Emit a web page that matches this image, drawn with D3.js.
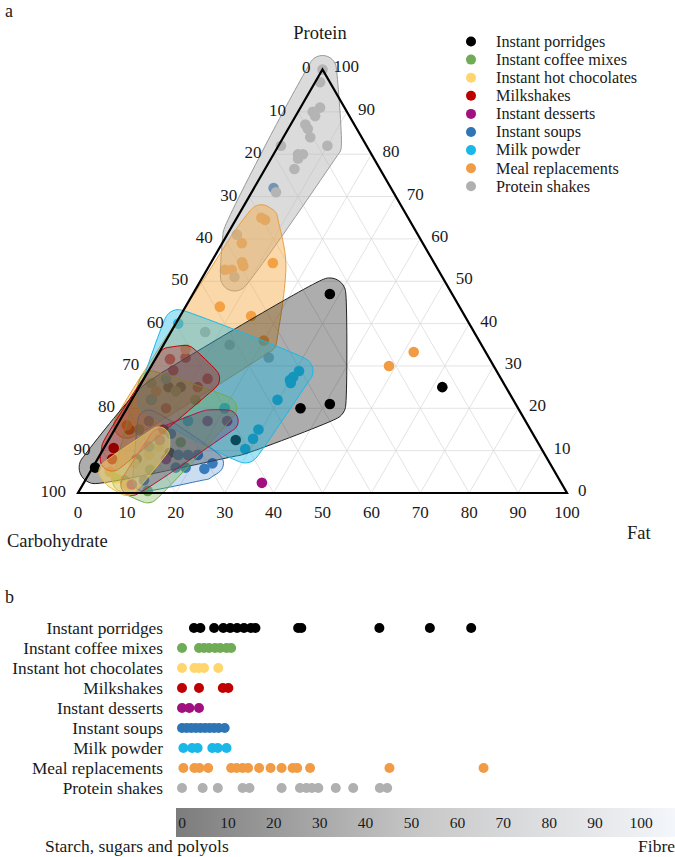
<!DOCTYPE html>
<html><head><meta charset="utf-8">
<script src="https://cdn.jsdelivr.net/npm/d3@7"></script>
<style>
body{margin:0;background:#fff}
svg{display:block}
text{font-family:"Liberation Serif","Times New Roman",serif;fill:#1a1a1a}
</style>
</head><body>
<svg id="c" width="675" height="857"></svg>
<script>
// ---------- DATA ----------
const categories = ["Instant porridges","Instant coffee mixes","Instant hot chocolates","Milkshakes",
  "Instant desserts","Instant soups","Milk powder","Meal replacements","Protein shakes"];
const colors = ["#000000","#6fac55","#ffd56e","#c00000","#a0107f","#2e75b6","#1ab8e8","#f29b45","#b0b0b0"];

// Panel a: composition [protein %, fat %]; carbohydrate = 100 - protein - fat
const porridgesPF = [[6,0.5],[47,28],[20,35.5],[21,41],[25,62],[9.5,14],[25,6],[25,8.5],[22,4],[12.5,26],[15,10],[8,8]];
const coffeePF = [[26,2],[20,20],[22,13],[5.5,12],[0.5,14],[24,8],[12,15],[3,8],[15,5]];
const hotChocPF = [[3.5,6],[7,8],[9,10],[11,11],[2,9],[5,4],[13,10]];
const milkshakesPF = [[31.6,3],[32,6],[29,5],[27,13],[25,12],[15,3],[10.6,2],[8,3],[20,8]];
const dessertsPF = [[17,18],[17,22],[2,10],[12.5,10.5],[2.4,36.4],[8,14]];
const soupsPF = [[72,4],[7,24],[5.7,23],[6,19],[6,17],[9,16],[9,18],[9,20],[17,6],[14,12],[3,12],[11,9]];
const milkPowderPF = [[40,0.5],[26.7,30],[27.4,30.3],[28.8,30.8],[26,30.5],[22,29.8],[15,29.4],[12.8,29.4],[10.4,29],[22,4],[17,14],[27,4.5],[20,20]];
const mealPF = [[65,5],[64.5,6],[59,4],[54.5,6.3],[53.6,7],[52.7,3.7],[52.7,5.1],[54.3,12.7],[41.8,14.5],[30,48.6],[33.3,52],[16,2],[24,4],[34,5],[44,7],[36,20]];
const proteinShakesPF = [[100,0],[97,1],[91,4],[90,3],[89,4],[87,3],[86,4],[84,5.5],[82,0.5],[82,10],[80,6],[80,5],[79,5.5],[76.5,6],[71,5],[61,2],[51,6.5],[38,7],[35,13.5],[32,23]];
const ternaryData = [porridgesPF,coffeePF,hotChocPF,milkshakesPF,dessertsPF,soupsPF,milkPowderPF,mealPF,proteinShakesPF];
// points left outside each group's envelope (indices)
const hullExcluded = [[4],[],[],[],[4],[0],[],[9,10],[17,18,19]];
const ternaryTicks = [0,10,20,30,40,50,60,70,80,90,100];

// Panel b: fibre share of carbohydrate (%)
const porridgesFibre = [2.6,4,7,9,10.5,12,13.5,15,16,25.3,26,43,54,63];
const coffeeFibre = [0,3.7,4.8,5.9,7.2,8.3,9.7,10.7];
const hotChocFibre = [0,2.7,3.7,4.8,7.9];
const milkshakesFibre = [0,3.7,8.9,10.1];
const dessertsFibre = [0,1.6,3.7];
const soupsFibre = [0,1,2,3,4,5,6,7,8,9.3];
const milkPowderFibre = [0.3,2.2,3.4,6.6,7.8,9.7];
const mealFibre = [0.3,2.7,3.8,5.7,10.7,11.9,13.2,14.4,16.8,19.3,21.7,24.1,25.1,27.9,45.2,65.7];
const proteinShakesFibre = [0,4.5,7.8,13.2,14.7,21.7,25.7,27.1,28.3,29.7,33.5,37.3,43.1,44.7];
const fibreData = [porridgesFibre,coffeeFibre,hotChocFibre,milkshakesFibre,dessertsFibre,soupsFibre,milkPowderFibre,mealFibre,proteinShakesFibre];
const fibreTicks = [0,10,20,30,40,50,60,70,80,90,100];

// ---------- STYLES ----------
const hullStyle = [
  {fill:"#000000",op:0.32,stroke:"#222",pad:16},
  {fill:"#70ad47",op:0.32,stroke:"#70ad47",pad:12},
  {fill:"#ffd966",op:0.5,stroke:"#e0bb50",pad:11},
  {fill:"#c00000",op:0.3,stroke:"#c00000",pad:12},
  {fill:"#6a3060",op:0.3,stroke:"#b0104a",pad:11},
  {fill:"#4f8fd0",op:0.3,stroke:"#2e75b6",pad:11},
  {fill:"#1ab8e8",op:0.4,stroke:"#1ab8e8",pad:14},
  {fill:"#f5a940",op:0.45,stroke:"#e8a040",pad:13},
  {fill:"#b8b8b8",op:0.5,stroke:"#999999",pad:14}
];
const hullOrder = [8,7,0,6,5,1,3,4,2];

const svg = d3.select("#c");

// ---------- PANEL A: ternary ----------
const tx = d3.scaleLinear().domain([0,100]).range([78,567]);
const ty = d3.scaleLinear().domain([0,100]).range([493,69.5]);
const proj = (p,f) => [tx(f + p/2), ty(p)];

const ga = svg.append("g");
// grid
const grid = ga.append("g").attr("stroke","#dcdcdc").attr("stroke-width",0.8);
ternaryTicks.filter(v => v>0 && v<100).forEach(v => {
  const segs = [
    [proj(v,0), proj(v,100-v)],        // protein constant
    [proj(0,v), proj(100-v,v)],        // fat constant
    [proj(100-v,0), proj(0,100-v)]     // carbohydrate constant
  ];
  segs.forEach(s => grid.append("line").attr("x1",s[0][0]).attr("y1",s[0][1]).attr("x2",s[1][0]).attr("y2",s[1][1]));
});

// dots
ternaryData.forEach((arr,gi) => {
  ga.append("g").selectAll("circle").data(arr).join("circle")
    .attr("cx",d => proj(d[0],d[1])[0]).attr("cy",d => proj(d[0],d[1])[1])
    .attr("r",5.3).attr("fill",colors[gi]);
});

// envelopes
const hullLine = d3.line().curve(d3.curveCatmullRomClosed.alpha(0.5));
hullOrder.forEach(gi => {
  const st = hullStyle[gi];
  const pts = ternaryData[gi].filter((d,i) => !hullExcluded[gi].includes(i)).map(d => proj(d[0],d[1]));
  const samples = [];
  pts.forEach(p => { for (let k=0;k<16;k++){ const a=k*Math.PI/8; samples.push([p[0]+st.pad*Math.cos(a), p[1]+st.pad*Math.sin(a)]); } });
  const hull = d3.polygonHull(samples);
  ga.append("path").attr("d",hullLine(hull))
    .attr("fill",st.fill).attr("fill-opacity",st.op)
    .attr("stroke",st.stroke).attr("stroke-width",1);
});

// triangle
ga.append("path").attr("d", d3.line()([proj(0,0),proj(0,100),proj(100,0)]) + "Z")
  .attr("fill","none").attr("stroke","#000").attr("stroke-width",2.2).attr("stroke-linejoin","miter");

// tick labels
const fs = 17;
ternaryTicks.forEach(v => {
  // carbohydrate, left edge
  const L = proj(100-v,0);
  ga.append("text").attr("x",L[0]-12).attr("y",L[1]-2).attr("dy","0.35em").attr("text-anchor","end").attr("font-size",fs).text(v);
  // protein, right edge
  const R = proj(v,100-v);
  ga.append("text").attr("x",R[0]+11).attr("y",R[1]-3).attr("dy","0.35em").attr("text-anchor","start").attr("font-size",fs).text(v);
  // fat, bottom edge
  const B = proj(0,v);
  ga.append("text").attr("x",B[0]).attr("y",B[1]+19).attr("dy","0.35em").attr("text-anchor","middle").attr("font-size",fs).text(v);
});
ga.append("text").attr("x",320).attr("y",33).attr("dy","0.35em").attr("text-anchor","middle").attr("font-size",18.5).text("Protein");
ga.append("text").attr("x",7).attr("y",541).attr("dy","0.35em").attr("font-size",18.5).text("Carbohydrate");
ga.append("text").attr("x",627).attr("y",533).attr("dy","0.35em").attr("font-size",18.5).text("Fat");
svg.append("text").attr("x",5).attr("y",11).attr("dy","0.35em").attr("font-size",18).text("a");

// legend
const lg = svg.append("g");
categories.forEach((c,i) => {
  const y = 41.5 + i*18.1;
  lg.append("circle").attr("cx",471).attr("cy",y).attr("r",5).attr("fill",colors[i]);
  lg.append("text").attr("x",496).attr("y",y).attr("dy","0.33em").attr("font-size",16.2).text(c);
});

// ---------- PANEL B: fibre strip ----------
svg.append("text").attr("x",5).attr("y",597).attr("dy","0.35em").attr("font-size",18).text("b");
const sx = d3.scaleLinear().domain([0,100]).range([182,641]);
const sy = d3.scalePoint().domain(categories).range([628,788]);
const gb = svg.append("g");
categories.forEach((c,i) => {
  gb.append("text").attr("x",163).attr("y",sy(c)).attr("dy","0.33em").attr("text-anchor","end").attr("font-size",17.3).text(c);
  gb.append("g").selectAll("circle").data(fibreData[i]).join("circle")
    .attr("cx",d => sx(d)).attr("cy",sy(c)).attr("r",5).attr("fill",colors[i]);
});

const defs = svg.append("defs");
const grad = defs.append("linearGradient").attr("id","gbar").attr("x1","0").attr("x2","1").attr("y1","0").attr("y2","0");
grad.append("stop").attr("offset","0").attr("stop-color","#7c7c7c");
grad.append("stop").attr("offset","0.5").attr("stop-color","#c9c9c9");
grad.append("stop").attr("offset","1").attr("stop-color","#f3f6fa");
gb.append("rect").attr("x",176).attr("y",808).attr("width",499).attr("height",29).attr("fill","url(#gbar)");
fibreTicks.forEach(v => {
  gb.append("text").attr("x",sx(v)).attr("y",823).attr("dy","0.35em").attr("text-anchor","middle").attr("font-size",15.5).text(v);
});
gb.append("text").attr("x",45).attr("y",846).attr("dy","0.35em").attr("font-size",17.5).text("Starch, sugars and polyols");
gb.append("text").attr("x",675).attr("y",846).attr("dy","0.35em").attr("text-anchor","end").attr("font-size",17.5).text("Fibre");
</script>
</body></html>
